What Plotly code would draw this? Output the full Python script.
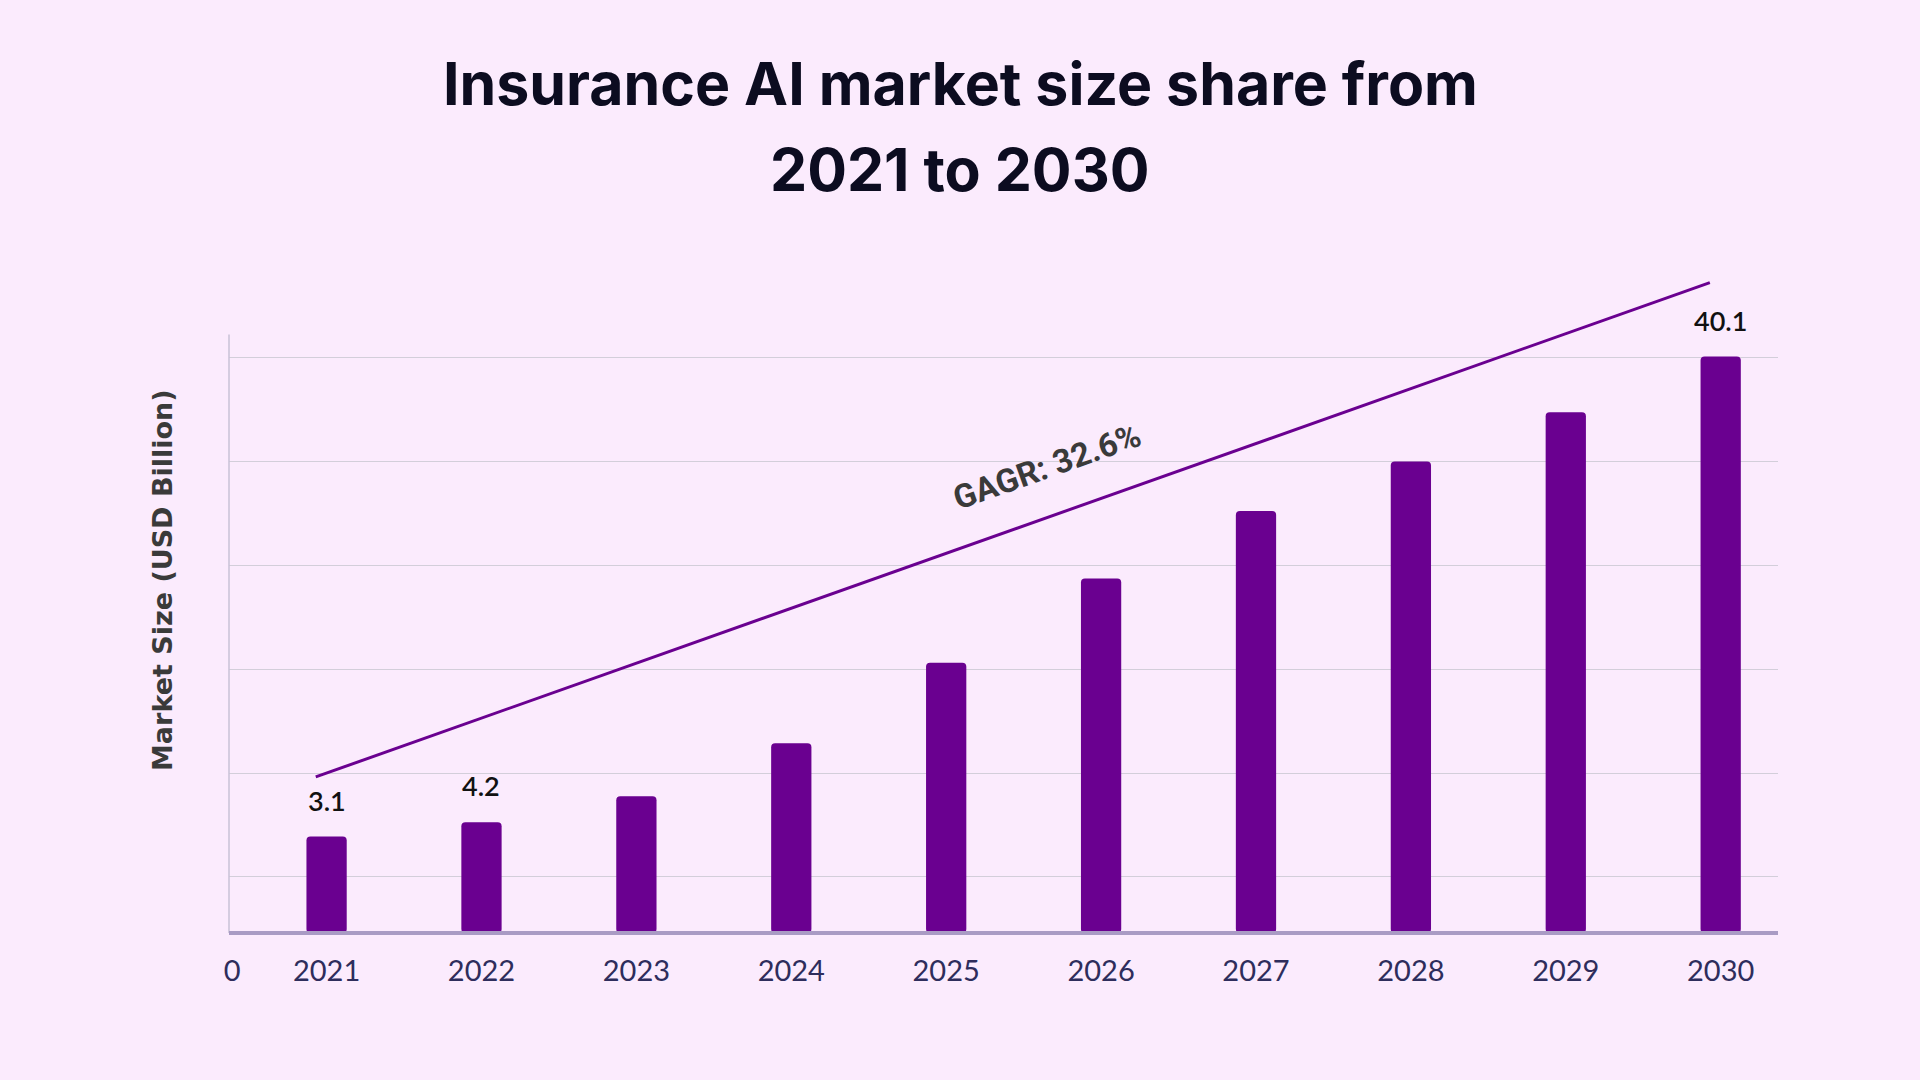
import plotly.graph_objects as go

# data
years = [2021, 2022, 2023, 2024, 2025, 2026, 2027, 2028, 2029, 2030]
market_size = [3.1, 4.2, 6.2, 10.3, 16.5, 23.0, 28.2, 32.0, 35.8, 40.1]
shown_labels = {2021: "3.1", 2022: "4.2", 2030: "40.1"}
grid_vals = [0, 8, 16, 24, 32, 40]
trend_x = [2020.93, 2029.93]
trend_y = [7.7, 45.8]
cagr_text = "GAGR: 32.6%"
title_lines = ["Insurance AI market size share from", "2021 to 2030"]
y_title = "Market Size (USD Billion)"

BG = "#fbebfd"
BAR = "#6a0090"
Y_FLOOR = -4.33
Y_TOP = 47
X_MIN = 2020.37
X_MAX = 2030.37
M_L, M_R, M_T, M_B = 229, 142, 267, 147
PLOT_W = 1920 - M_L - M_R
PLOT_H = 1080 - M_T - M_B


def px_x(x):
    return (x - M_L) / PLOT_W


def px_y(y):
    return (1080 - y - M_B) / PLOT_H


fig = go.Figure()

fig.add_trace(go.Bar(
    x=years, y=[v - Y_FLOOR for v in market_size], base=Y_FLOOR,
    width=0.26, marker=dict(color=BAR, cornerradius=4, line=dict(width=0)),
    hoverinfo="skip",
))

fig.add_trace(go.Scatter(
    x=trend_x, y=trend_y, mode="lines",
    line=dict(color=BAR, width=3), hoverinfo="skip",
))

# left axis line only up to just above the top gridline
fig.add_shape(type="line", xref="paper", yref="y", x0=0, x1=0,
              y0=Y_FLOOR, y1=41.8, line=dict(color="#c9c2d6", width=1.5))
# baseline (paper refs so it is not clipped to the plot area)
fig.add_shape(type="line", xref="paper", yref="paper", x0=0, x1=1,
              y0=0, y1=0, line=dict(color="#a99bc4", width=4))

for yr, txt in shown_labels.items():
    fig.add_annotation(x=yr, y=market_size[years.index(yr)], text=txt,
                       showarrow=False, yanchor="bottom", yshift=18,
                       font=dict(family="Lato", size=27, color="#111111", weight=600))

fig.add_annotation(x=2025.65, y=31.6, text="<b>" + cagr_text + "</b>",
                   textangle=-19.5, showarrow=False,
                   font=dict(family="Roboto", size=33, color="#3a3a3a"))

# y axis title placed by hand (centered lower than the plot area's middle)
fig.add_annotation(xref="paper", yref="paper", x=px_x(162), y=px_y(580),
                   text="<b>" + y_title + "</b>", textangle=-90,
                   showarrow=False, xanchor="center", yanchor="middle",
                   font=dict(family="DejaVu Sans", size=27, color="#3a3a3a"))

# title: two annotations (wider line spacing than plotly's own title)
for i, line in enumerate(title_lines):
    y_px = [83, 169][i]
    fig.add_annotation(xref="paper", yref="paper", x=px_x(960),
                       y=px_y(y_px), text="<b>" + line + "</b>",
                       showarrow=False, yanchor="middle",
                       font=dict(family="Inter", size=59, color="#0c0c20"))

fig.update_layout(
    width=1920, height=1080,
    paper_bgcolor=BG, plot_bgcolor=BG,
    showlegend=False,
    margin=dict(l=M_L, r=M_R, t=M_T, b=M_B),
    xaxis=dict(
        range=[X_MIN, X_MAX],
        tickvals=[X_MIN + 0.02] + years,
        ticktext=["0"] + [str(y) for y in years],
        showgrid=False, zeroline=False, showline=False, ticks="",
        tickfont=dict(family="Lato", size=29, color="#2e2d5c"),
        ticklabelstandoff=18,
    ),
    yaxis=dict(
        range=[Y_FLOOR, Y_TOP],
        tickvals=grid_vals, showticklabels=False,
        gridcolor="#d3ceda", gridwidth=1,
        zeroline=False, showline=False, ticks="",
    ),
)

fig.write_html("out.html", config={"displayModeBar": False},
               post_script="document.body.style.margin='0';")
